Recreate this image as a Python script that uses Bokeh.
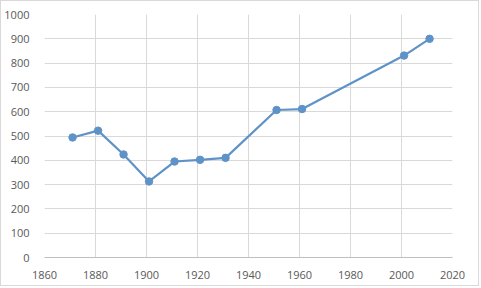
from bokeh.plotting import figure
from bokeh.embed import file_html
from bokeh.resources import INLINE
from bokeh.models import Range1d, FixedTicker

years = [1871, 1881, 1891, 1901, 1911, 1921, 1931, 1951, 1961, 2001, 2011]
population = [494, 522, 424, 313, 395, 402, 410, 607, 611, 831, 900]
x_ticks = [1860, 1880, 1900, 1920, 1940, 1960, 1980, 2000, 2020]
y_ticks = [0, 100, 200, 300, 400, 500, 600, 700, 800, 900, 1000]

p = figure(width=479, height=286, output_backend="svg", toolbar_location=None,
           x_range=Range1d(1860, 2020), y_range=Range1d(0, 1000),
           min_border_left=43, min_border_right=28, min_border_top=13, min_border_bottom=30)
p.styles = {"border": "1px solid #d9d9d9"}
p.outline_line_color = None
p.background_fill_color = "white"
p.border_fill_color = "white"

line_color = "#5f93c8"
p.line(years, population, line_color=line_color, line_width=2.2)
p.scatter(years, population, size=7.5, fill_color=line_color, line_color=line_color)

for ax in (p.xaxis[0], p.yaxis[0]):
    ax.major_tick_line_color = None
    ax.minor_tick_line_color = None
    ax.major_label_text_font = "Open Sans"
    ax.major_label_text_font_size = "11px"
    ax.major_label_text_color = "#595959"

p.xaxis.ticker = FixedTicker(ticks=x_ticks)
p.yaxis.ticker = FixedTicker(ticks=y_ticks)
p.xaxis.axis_line_color = "#bfbfbf"
p.yaxis.axis_line_color = None
p.xaxis.major_label_standoff = 7
p.yaxis.major_label_standoff = 9

p.xgrid.grid_line_color = "#d9d9d9"
p.ygrid.grid_line_color = "#d9d9d9"
p.xgrid.ticker = FixedTicker(ticks=x_ticks)
p.ygrid.ticker = FixedTicker(ticks=y_ticks)

open("out.html", "w").write(file_html(p, INLINE))
